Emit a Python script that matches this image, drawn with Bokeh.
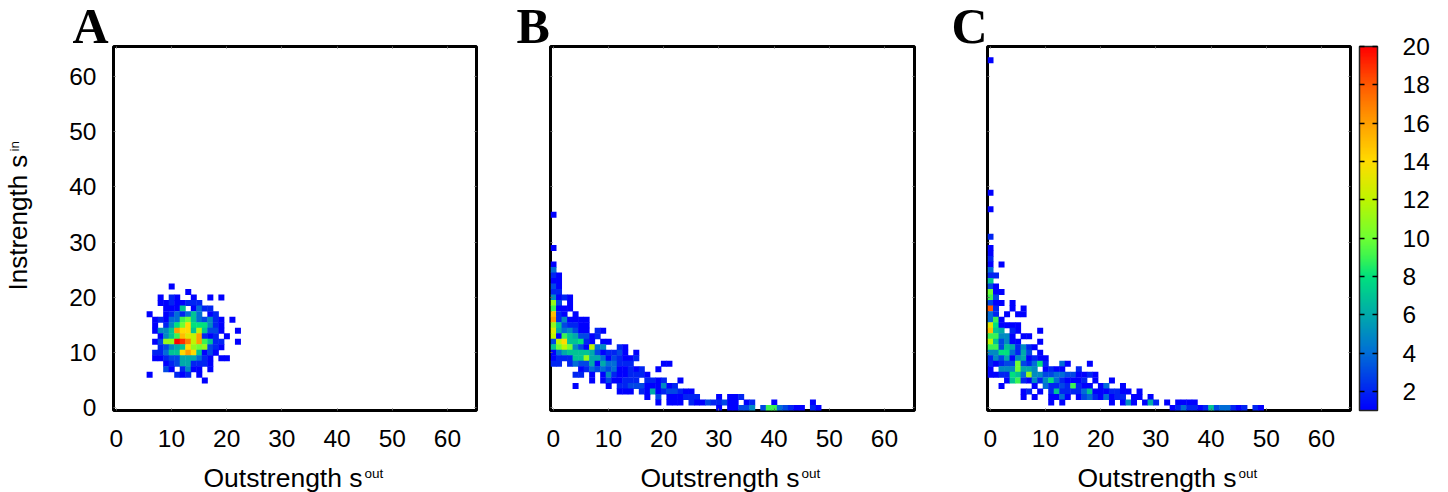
import math
from bokeh.plotting import figure
from bokeh.layouts import row
from bokeh.models import (ColumnDataSource, LinearColorMapper, ColorBar, FixedTicker, Label,
                          LinearAxis, Range1d)
from bokeh.embed import file_html
from bokeh.resources import INLINE

TICKS = [0, 10, 20, 30, 40, 50, 60]
CB_TICKS = list(range(2, 21, 2))
XLABEL = "Outstrength s"
XSUP = "out"
YLABEL = "Instrength s"
YSUP = "in"

# palette anchors: (value, r, g, b)
ANCHORS = [(1, 0, 0, 255), (4, 0, 110, 215), (6, 0, 170, 170), (8, 0, 225, 125), (9, 60, 245, 80),
           (10, 110, 255, 50), (12, 190, 245, 0), (14, 255, 220, 0), (16, 255, 160, 0),
           (18, 255, 90, 0), (20, 255, 0, 0)]

# cells per panel: {instrength: {outstrength: count}}
A_cells = {
    22: {10: 1},
    21: {13: 1},
    20: {8: 1, 10: 2, 11: 1, 14: 1, 17: 1, 19: 1},
    19: {8: 1, 9: 1, 10: 2, 11: 1, 12: 1, 13: 2, 14: 2, 15: 2},
    18: {9: 1, 10: 1, 11: 1, 12: 7, 14: 1, 15: 4, 16: 2, 17: 2},
    17: {6: 1, 9: 1, 10: 2, 11: 4, 12: 2, 13: 4, 14: 7, 15: 4, 17: 1, 18: 2},
    16: {7: 1, 8: 2, 9: 1, 10: 4, 11: 4, 12: 9, 13: 10, 14: 7, 15: 4, 16: 3, 17: 5, 18: 2, 19: 1, 21: 1},
    15: {7: 1, 9: 2, 10: 5, 11: 8, 12: 10, 13: 14, 14: 8, 15: 8, 16: 8, 17: 5, 18: 2, 19: 1},
    14: {7: 1, 8: 5, 9: 5, 10: 7, 11: 16, 12: 14, 13: 14, 14: 7, 15: 12, 16: 7, 17: 3, 18: 3, 19: 1, 22: 1},
    13: {8: 1, 9: 5, 10: 7, 11: 9, 12: 15, 13: 13, 14: 12, 15: 16, 16: 2, 17: 1, 18: 2, 20: 1},
    12: {7: 1, 8: 3, 9: 11, 10: 11, 11: 20, 12: 19, 13: 17, 14: 12, 15: 16, 16: 9, 17: 7, 18: 2, 19: 2, 22: 1},
    11: {8: 2, 9: 3, 10: 5, 11: 6, 12: 7, 13: 14, 14: 11, 15: 10, 16: 11, 17: 3, 18: 2, 19: 1},
    10: {7: 2, 8: 2, 9: 4, 10: 7, 11: 7, 12: 14, 13: 16, 14: 14, 15: 7, 16: 1, 17: 3, 18: 1},
    9: {7: 1, 8: 1, 9: 2, 10: 3, 11: 3, 12: 6, 13: 6, 14: 6, 15: 4, 16: 2, 17: 1, 19: 1, 20: 1},
    8: {9: 1, 10: 2, 11: 3, 12: 6, 13: 6, 14: 2, 15: 2, 16: 2, 17: 1},
    7: {9: 3, 10: 1, 12: 2, 13: 5, 14: 1, 15: 1, 17: 1},
    6: {6: 1, 11: 2, 12: 1, 13: 2, 15: 1},
    5: {16: 1},
}
B_cells = {
    35: {0: 1},
    29: {0: 1},
    26: {0: 1},
    25: {0: 4},
    24: {0: 2, 1: 1},
    23: {0: 1, 1: 1},
    22: {0: 3, 1: 1},
    21: {0: 2, 1: 2},
    20: {0: 5, 1: 1, 2: 2, 3: 1},
    19: {0: 11, 1: 3, 3: 1},
    18: {0: 9, 1: 1, 2: 1, 3: 1},
    17: {0: 15, 1: 2, 2: 1, 4: 1},
    16: {0: 16, 1: 2, 2: 5, 3: 1, 4: 1, 5: 1, 6: 1},
    15: {0: 11, 1: 7, 2: 3, 3: 2, 4: 2, 5: 1, 6: 1},
    14: {0: 13, 1: 6, 2: 4, 3: 5, 4: 3, 5: 1, 6: 1, 8: 2, 9: 1},
    13: {0: 12, 1: 1, 2: 9, 3: 7, 4: 6, 5: 3, 6: 3, 7: 1, 8: 2},
    12: {0: 3, 1: 12, 2: 14, 3: 7, 4: 7, 5: 8, 6: 2, 7: 1, 9: 1, 10: 1},
    11: {0: 7, 1: 10, 2: 12, 3: 10, 4: 5, 5: 3, 6: 1, 7: 12, 8: 4, 9: 5, 12: 2, 13: 1},
    10: {0: 1, 1: 4, 2: 6, 3: 7, 4: 7, 5: 7, 6: 7, 7: 6, 8: 3, 9: 1, 10: 2, 11: 2, 12: 3, 13: 1, 15: 1},
    9: {0: 1, 1: 2, 2: 2, 3: 2, 4: 7, 5: 7, 6: 11, 7: 6, 8: 6, 9: 4, 10: 1, 11: 3, 12: 2, 13: 1, 14: 1, 15: 2},
    8: {0: 2, 1: 2, 3: 2, 4: 4, 5: 3, 6: 3, 7: 6, 8: 1, 9: 6, 10: 4, 11: 4, 12: 2, 13: 2, 14: 2, 20: 1, 21: 1},
    7: {5: 1, 6: 2, 7: 4, 8: 3, 9: 4, 10: 3, 11: 4, 12: 1, 13: 1, 14: 2, 15: 1, 16: 2, 19: 1},
    6: {4: 2, 5: 2, 7: 1, 9: 1, 10: 5, 11: 2, 12: 1, 13: 1, 14: 2, 15: 2, 16: 2, 17: 1},
    5: {7: 1, 9: 1, 10: 3, 11: 1, 12: 1, 13: 2, 14: 2, 15: 2, 17: 2, 18: 2, 19: 1, 20: 2, 23: 1},
    4: {4: 1, 10: 1, 12: 2, 13: 2, 14: 3, 15: 3, 16: 3, 17: 1, 18: 1, 19: 1, 20: 5, 21: 1, 22: 2},
    3: {12: 1, 13: 1, 14: 1, 16: 2, 17: 1, 18: 6, 19: 1, 20: 2, 21: 3, 22: 3, 23: 2, 24: 1, 25: 1},
    2: {17: 1, 19: 3, 21: 1, 22: 1, 23: 1, 24: 2, 25: 2, 26: 2, 30: 1, 32: 1, 33: 1, 34: 2},
    1: {19: 1, 21: 1, 22: 1, 23: 1, 25: 2, 26: 1, 27: 1, 28: 3, 29: 2, 30: 2, 31: 3, 32: 1, 33: 1, 35: 1, 36: 2, 40: 1, 47: 1},
    0: {30: 1, 32: 1, 33: 1, 34: 3, 35: 3, 36: 5, 38: 3, 39: 9, 40: 9, 41: 4, 42: 3, 43: 2, 44: 1, 45: 1, 47: 2, 48: 1},
}
C_cells = {
    63: {0: 1},
    39: {0: 1},
    36: {0: 1},
    31: {0: 2},
    29: {0: 1},
    28: {0: 1},
    27: {0: 2},
    26: {0: 1, 2: 1},
    25: {0: 4},
    24: {0: 2, 1: 2},
    23: {0: 7},
    22: {0: 3, 1: 1},
    21: {0: 10, 1: 1, 2: 1},
    20: {0: 9, 1: 3},
    19: {0: 3, 1: 1, 2: 1, 4: 1},
    18: {0: 18, 1: 2, 4: 1, 6: 1},
    17: {0: 4, 1: 2, 3: 1, 5: 1, 6: 1},
    16: {0: 4, 1: 9, 2: 1},
    15: {0: 13, 1: 8, 2: 1, 3: 1, 4: 1, 5: 1},
    14: {0: 15, 1: 7, 2: 6, 4: 2, 5: 1, 9: 1},
    13: {0: 9, 1: 9, 2: 5, 3: 5, 4: 1, 6: 1, 7: 1},
    12: {0: 12, 1: 7, 2: 3, 3: 5, 4: 1, 5: 1, 9: 1},
    11: {0: 9, 1: 9, 2: 3, 3: 7, 4: 6, 5: 2, 6: 5, 7: 2, 8: 1},
    10: {0: 5, 1: 5, 2: 8, 3: 8, 4: 4, 5: 2, 6: 6, 7: 3, 9: 1},
    9: {0: 2, 1: 5, 2: 3, 3: 6, 4: 1, 5: 5, 6: 6, 7: 1, 8: 2, 9: 1, 10: 1},
    8: {0: 2, 1: 1, 2: 2, 3: 3, 4: 3, 5: 10, 6: 3, 7: 2, 8: 4, 9: 8, 10: 2, 13: 4, 14: 1, 18: 1},
    7: {0: 1, 2: 5, 3: 5, 4: 5, 5: 10, 6: 6, 7: 6, 8: 5, 10: 1, 11: 2, 12: 1, 13: 1, 16: 2},
    6: {0: 1, 1: 1, 2: 2, 3: 2, 4: 8, 5: 7, 6: 4, 7: 11, 8: 5, 9: 5, 10: 3, 11: 3, 12: 4, 13: 4, 14: 3, 15: 3, 16: 1, 17: 1, 18: 2, 19: 1},
    5: {3: 1, 4: 7, 5: 9, 6: 2, 7: 1, 8: 5, 9: 2, 10: 5, 11: 8, 12: 4, 13: 2, 14: 1, 15: 1, 16: 1, 17: 2, 19: 1, 22: 1},
    4: {2: 1, 8: 1, 10: 4, 11: 2, 12: 2, 13: 3, 14: 2, 15: 9, 16: 2, 17: 1, 18: 1, 20: 1, 21: 4, 24: 1},
    3: {6: 1, 7: 2, 9: 1, 11: 2, 12: 7, 13: 2, 14: 2, 15: 2, 16: 2, 17: 4, 18: 7, 19: 1, 20: 1, 21: 1, 22: 2, 23: 2, 24: 1, 25: 1, 27: 1},
    2: {6: 1, 8: 1, 11: 1, 12: 1, 13: 4, 14: 1, 16: 1, 17: 3, 18: 4, 19: 2, 20: 1, 21: 4, 22: 1, 23: 2, 24: 2, 26: 1, 27: 1, 29: 1},
    1: {11: 1, 13: 1, 22: 1, 24: 1, 25: 5, 26: 1, 28: 1, 29: 6, 30: 2, 32: 1, 34: 1, 35: 1, 36: 1, 37: 1},
    0: {33: 1, 34: 2, 35: 4, 36: 2, 37: 2, 38: 1, 39: 2, 40: 7, 41: 3, 42: 4, 43: 4, 44: 2, 45: 1, 46: 2, 48: 2, 49: 1},
}


def palette():
    out = []
    for i in range(256):
        v = 1 + 19 * i / 255
        for (a, r0, g0, b0), (b, r1, g1, b1) in zip(ANCHORS, ANCHORS[1:]):
            if v <= b:
                t = (v - a) / (b - a)
                out.append("#%02x%02x%02x" % (round(r0 + (r1 - r0) * t), round(g0 + (g1 - g0) * t), round(b0 + (b1 - b0) * t)))
                break
    return out


mapper = LinearColorMapper(palette=palette(), low=1, high=20)
FONT = "Liberation Sans"
UNITS_PER_PX = 1 / 5.52
TOP = 85


def panel(cells, letter, letter_x, left, right, frame_w, show_y):
    xs, ys, vs = [], [], []
    for r, row_vals in cells.items():
        for c, v in row_vals.items():
            xs.append(c); ys.append(r); vs.append(v)
    p = figure(frame_width=frame_w, frame_height=364, output_backend="svg", toolbar_location=None,
               x_range=Range1d(-0.5, -0.5 + frame_w * UNITS_PER_PX), y_range=Range1d(-0.5, -0.5 + 364 * UNITS_PER_PX),
               min_border_left=left, min_border_right=right, min_border_top=TOP, min_border_bottom=82,
               background_fill_color="white", border_fill_color="white")
    p.grid.visible = False
    p.rect(x="x", y="y", width=1, height=1, dilate=True, line_color=None,
           fill_color={"field": "v", "transform": mapper},
           source=ColumnDataSource(dict(x=xs, y=ys, v=vs)))
    p.outline_line_color = "#000000"
    p.outline_line_width = 3
    p.outline_line_alpha = 1
    main_x = p.below[0]
    extra = [LinearAxis(), LinearAxis()]
    p.add_layout(extra[0], "above")
    p.add_layout(extra[1], "right")
    for ax in list(p.xaxis) + list(p.yaxis):
        ax.ticker = FixedTicker(ticks=TICKS)
        ax.axis_line_color = None
        ax.major_tick_in = 2
        ax.major_tick_out = 0
        ax.major_tick_line_color = "#666666"
        ax.minor_tick_line_color = None
        ax.major_label_text_font = FONT
        ax.major_label_text_font_size = "24.5px"
        ax.major_label_text_color = "#000000"
    p.yaxis[0].major_label_standoff = 17
    for ax in extra:
        ax.major_label_overrides = {t: "" for t in TICKS}
        ax.major_label_standoff = 0
        ax.major_label_text_font_size = "1px"
    main_x.major_label_standoff = 19
    if not show_y:
        p.yaxis[0].major_label_overrides = {t: "" for t in TICKS}
        p.yaxis[0].major_label_standoff = 0
        p.yaxis[0].major_label_text_font_size = "1px"
    p.add_layout(Label(x=90, y=2, x_units="screen", y_units="screen", text=XLABEL, text_color="#000000",
                       text_font=FONT, text_font_size="26.5px", text_baseline="alphabetic"), "below")
    p.add_layout(Label(x=letter_x, y=21, x_units="screen", y_units="screen", text=letter, text_color="#000000",
                       text_font="Liberation Serif", text_font_style="bold", text_font_size="50px",
                       text_baseline="alphabetic"), "above")
    p.add_layout(Label(x=251, y=-483, x_units="screen", y_units="screen", text=XSUP, text_color="#000000",
                       text_font=FONT, text_font_size="13.5px", text_baseline="alphabetic"), "above")
    if show_y:
        p.add_layout(Label(x=-18.5, y=120, x_units="screen", y_units="screen", text=YLABEL, angle=math.pi / 2,
                           text_color="#000000",
                           text_font=FONT, text_font_size="26px", text_baseline="alphabetic"), "left")
        p.add_layout(Label(x=-7, y=259, x_units="screen", y_units="screen", text=YSUP, angle=math.pi / 2,
                           text_color="#000000",
                           text_font=FONT, text_font_size="13.5px", text_baseline="alphabetic"), "left")
    return p


pa = panel(A_cells, "A", -41, 113, 24, 363, True)
pb = panel(B_cells, "B", -34, 50, 24, 364, False)
pc = panel(C_cells, "C", -36, 49, 90, 363, False)

cb = ColorBar(color_mapper=mapper, ticker=FixedTicker(ticks=CB_TICKS), width=18, height=364, padding=0, margin=0,
              location=(9, 0),
              bar_line_color="#222222", bar_line_width=1.5,
              major_tick_line_color="#000000", major_tick_in=18, major_tick_line_width=1.5,
              major_tick_line_dash="5 8", minor_tick_line_color=None,
              major_label_text_font=FONT, major_label_text_font_size="24.5px", major_label_text_color="#000000",
              label_standoff=25)
pc.add_layout(cb, "right")

page = row(pa, pb, pc, spacing=0, margin=(46 - TOP, 0, 0, 0))
open("out.html", "w").write(file_html(page, INLINE))
